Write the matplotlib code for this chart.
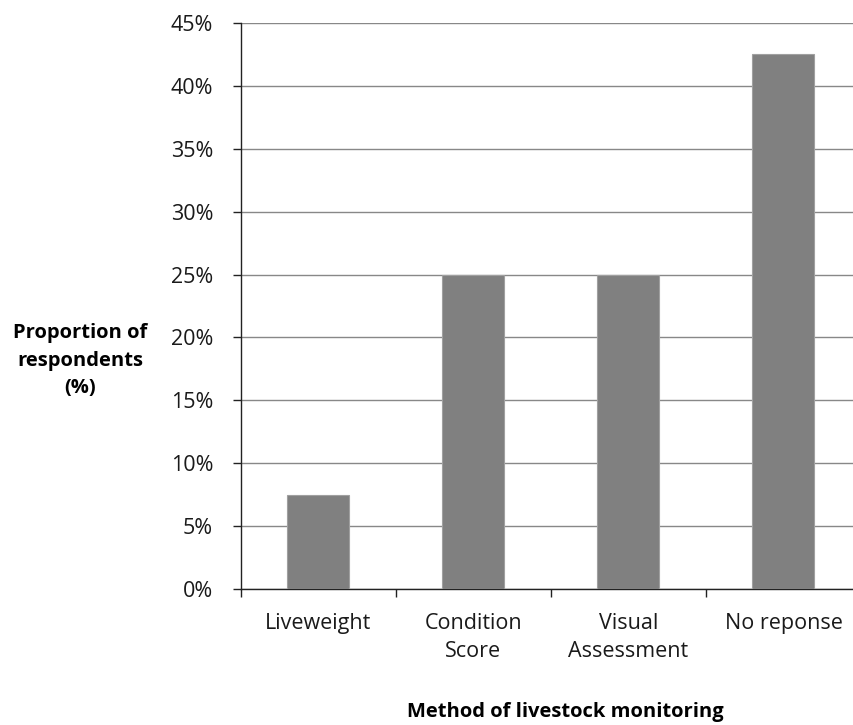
import matplotlib
matplotlib.use("Agg")
import matplotlib.pyplot as plt
from matplotlib.ticker import FixedLocator, NullFormatter

categories = ["Liveweight", "Condition\nScore", "Visual\nAssessment", "No reponse"]
values = [7.5, 25.0, 25.0, 42.5]
y_ticks = [0, 5, 10, 15, 20, 25, 30, 35, 40, 45]
y_tick_labels = [f"{t}%" for t in y_ticks]

plt.rcParams["font.family"] = ["Open Sans", "DejaVu Sans"]

fig = plt.figure(figsize=(8.54, 7.25), dpi=100)
W, H = 854, 725
left, right, top, bottom = 241, 861, 23, 589
ax = fig.add_axes([left / W, 1 - bottom / H, (right - left) / W, (bottom - top) / H])

x = list(range(len(categories)))
ax.bar(x, values, width=0.4, color="#808080", edgecolor="#a0a0a0", linewidth=0.8, zorder=3)

ax.set_xlim(-0.5, len(categories) - 0.5)
ax.set_ylim(0, 45)
ax.set_yticks(y_ticks)
ax.set_yticklabels(y_tick_labels, fontsize=15.5, color="#1a1a1a")
ax.yaxis.grid(True, color="#888888", linewidth=1.0, zorder=0)
ax.set_axisbelow(True)

ax.set_xticks(x)
ax.set_xticklabels(categories, fontsize=15.5, color="#1a1a1a", linespacing=1.45)
ax.tick_params(axis="x", which="major", length=0, pad=17)
ax.xaxis.set_minor_locator(FixedLocator([i - 0.5 for i in range(len(categories) + 1)]))
ax.xaxis.set_minor_formatter(NullFormatter())
ax.tick_params(axis="x", which="minor", length=6, width=1, color="#222222", direction="out")
ax.tick_params(axis="y", length=6, width=1, color="#222222", direction="out", pad=14)

for s in ["top", "right"]:
    ax.spines[s].set_visible(False)
for s in ["left", "bottom"]:
    ax.spines[s].set_color("#222222")
    ax.spines[s].set_linewidth(1.0)

fig.text(80 / W, 1 - 361 / H, "Proportion of\nrespondents\n(%)", ha="center", va="center",
         fontsize=14.5, fontweight="bold", linespacing=1.5)
fig.text(565 / W, 1 - 712 / H, "Method of livestock monitoring", ha="center", va="center",
         fontsize=14.5, fontweight="bold")

fig.savefig("out.png", dpi=100, facecolor="white")
